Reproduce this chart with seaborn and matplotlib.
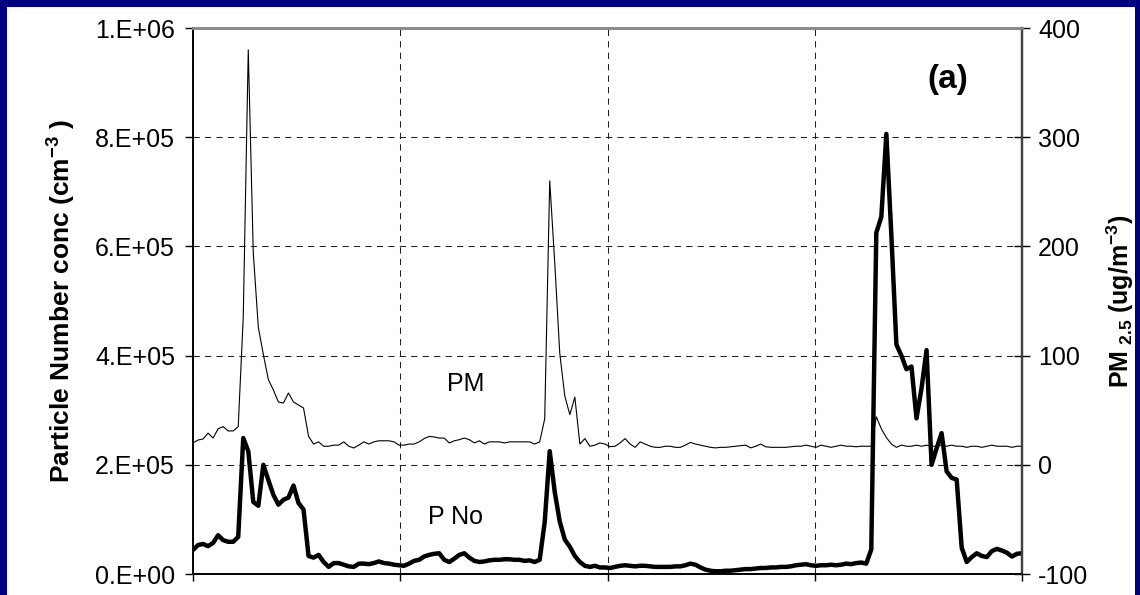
import matplotlib
matplotlib.use("Agg")
import numpy as np
import matplotlib.pyplot as plt
import seaborn as sns
from matplotlib.ticker import FuncFormatter
from matplotlib.patches import Rectangle

# ---------------- data ----------------
time_index = list(range(166))

particle_number = [  # cm^-3
    44e3, 53e3, 55e3, 51e3, 57e3, 71e3, 62e3, 59e3, 59e3, 68e3,
    249e3, 225e3, 132e3, 125e3, 200e3, 172e3, 145e3, 127e3, 136e3, 140e3,
    162e3, 130e3, 118e3, 33e3, 30e3, 35e3, 22e3, 13e3, 20e3, 20e3,
    17e3, 14e3, 13e3, 19e3, 19e3, 18e3, 20e3, 23e3, 20e3, 19e3,
    17e3, 16e3, 15e3, 19e3, 24e3, 26e3, 32e3, 35e3, 37e3, 38e3,
    26e3, 22e3, 28e3, 35e3, 38e3, 30e3, 24e3, 22e3, 23e3, 25e3,
    26e3, 26e3, 27e3, 27e3, 26e3, 26e3, 24e3, 25e3, 22e3, 26e3,
    95e3, 225e3, 150e3, 96e3, 63e3, 50e3, 33e3, 22e3, 15e3, 13e3,
    15e3, 12e3, 12e3, 11e3, 13e3, 15e3, 16e3, 15e3, 14e3, 15e3,
    15e3, 14e3, 13e3, 13e3, 13e3, 13e3, 14e3, 14e3, 16e3, 19e3,
    17e3, 12e3, 8e3, 6e3, 5e3, 5e3, 6e3, 6e3, 7e3, 8e3,
    9e3, 9e3, 10e3, 11e3, 11e3, 12e3, 12e3, 13e3, 13e3, 14e3,
    16e3, 17e3, 18e3, 16e3, 15e3, 16e3, 16e3, 17e3, 16e3, 17e3,
    19e3, 18e3, 20e3, 21e3, 19e3, 45e3, 625e3, 654e3, 806e3, 620e3,
    420e3, 400e3, 375e3, 380e3, 285e3, 340e3, 410e3, 200e3, 230e3, 258e3,
    188e3, 176e3, 173e3, 48e3, 22e3, 31e3, 38e3, 33e3, 31e3, 42e3,
    46e3, 43e3, 39e3, 32e3, 37e3, 38e3,
]

pm25 = [  # ug/m^3
    20, 22.7, 23.6, 29, 24.5, 33, 35, 31, 31, 35,
    135, 380, 194, 126, 101, 78, 68.5, 57.5, 56.6, 65.8,
    57.5, 54.8, 52, 26, 19, 21, 17, 17, 18, 18,
    21, 17, 15.4, 18, 21, 19, 21, 22, 22, 22,
    21, 18, 18, 19, 19, 21, 24, 26, 25.5, 24.5,
    24.5, 20, 22, 23, 24.5, 23, 20, 22, 19, 21,
    21, 21, 20, 21, 21, 21, 21, 21, 19, 21,
    42, 260, 185, 102, 63, 46, 62, 19, 24, 17,
    18, 20, 19, 16.6, 17, 20, 24, 19, 16, 21,
    19, 17, 16, 16, 17, 17, 16, 16, 18, 20.5,
    19, 18, 17, 16, 15.5, 16, 16, 16.5, 17, 17.5,
    18, 15.5, 17, 19, 16.5, 16, 16, 16, 16, 16.5,
    17, 17, 18, 17, 16, 18, 17, 16, 17, 18,
    17, 17, 16.5, 17, 17, 17, 44, 33, 25, 19,
    16, 18, 17, 17, 18, 17, 18, 17, 17, 18,
    17, 18, 17, 17, 16, 17, 17, 16, 17, 18,
    17, 17, 17, 16, 17, 17,
]

left_ticks = [0, 2e5, 4e5, 6e5, 8e5, 1e6]
right_ticks = [-100, 0, 100, 200, 300, 400]
left_label = "Particle Number conc (cm$^{-3}$ )"
right_label = r"PM$_{\ 2.5}$ (ug/m$^{-3}$)"

# ---------------- style ----------------
sns.set_theme(style="white")
plt.rcParams['font.family'] = ['Liberation Sans', 'DejaVu Sans']
plt.rcParams['mathtext.fontset'] = 'custom'
plt.rcParams['mathtext.rm'] = 'Liberation Sans'
plt.rcParams['mathtext.bf'] = 'Liberation Sans:bold'
plt.rcParams['mathtext.default'] = 'bf'
plt.rcParams['axes.unicode_minus'] = False
plt.rcParams['text.color'] = 'black'
plt.rcParams['axes.labelcolor'] = 'black'
plt.rcParams['xtick.color'] = 'black'
plt.rcParams['ytick.color'] = 'black'

W, H = 1140, 595
fig = plt.figure(figsize=(W / 100, H / 100), dpi=100, facecolor='#000080')
fig.patches.append(Rectangle((7 / W, 0), (1135 - 7) / W, (H - 7) / H,
                             transform=fig.transFigure, facecolor='white',
                             edgecolor='none', zorder=-10))

ax = fig.add_axes([193 / W, 21 / H, 829 / W, 546 / H])
ax.set_facecolor('white')
ax2 = ax.twinx()

sns.lineplot(x=time_index, y=particle_number, ax=ax, color='black',
             linewidth=3.2, sort=False, estimator=None)
sns.lineplot(x=time_index, y=pm25, ax=ax2, color='black',
             linewidth=0.8, sort=False, estimator=None)

n = len(time_index)
ax.set_xlim(0, n - 1)
ax.set_ylim(0, 1e6)
ax2.set_ylim(-100, 400)

ax.set_xticks(np.linspace(0, n - 1, 5))
ax.set_yticks(left_ticks)
ax2.set_yticks(right_ticks)
ax.yaxis.set_major_formatter(FuncFormatter(lambda v, p: f"{v:.0E}".replace("E", ".E")))

ax.set_axisbelow(True)
ax.grid(True, color='#202020', linestyle=(0, (6, 5)), linewidth=0.75)
ax2.grid(False)

ax.tick_params(axis='y', which='major', direction='out', length=6, width=1,
               left=True, labelleft=True, labelsize=18, pad=7)
ax.tick_params(axis='x', which='major', direction='out', length=5, width=1,
               bottom=True, labelbottom=False)
ax2.tick_params(axis='y', which='major', direction='inout', length=11, width=1,
                right=True, labelright=True, labelsize=18, pad=6)

for a in (ax, ax2):
    a.spines['left'].set_color('black')
    a.spines['left'].set_linewidth(1.2)
    a.spines['bottom'].set_color('black')
    a.spines['bottom'].set_linewidth(1.2)
    a.spines['top'].set_color('#8a8a8a')
    a.spines['top'].set_linewidth(2.0)
    a.spines['right'].set_color('#404040')
    a.spines['right'].set_linewidth(1.6)
    a.set_xlabel('')

ax.set_ylabel(left_label, fontsize=19, fontweight='bold')
ax.yaxis.set_label_coords(-0.158, 0.5)
ax.yaxis.label.set_va('center')
ax2.set_ylabel(right_label, fontsize=18, fontweight='bold', rotation=90)
ax2.yaxis.set_label_coords(1.1185, 0.5)
ax2.yaxis.label.set_va('center')

ax.text(54.3, 3.48e5, "PM", fontsize=18, ha='center', va='center')
ax.text(52.3, 1.04e5, "P No", fontsize=18, ha='center', va='center')
ax.text(0.911, 0.905, "(a)", transform=ax.transAxes, fontsize=24,
        fontweight='bold', ha='center', va='center')

fig.savefig('out.png', dpi=100, facecolor=fig.get_facecolor())
